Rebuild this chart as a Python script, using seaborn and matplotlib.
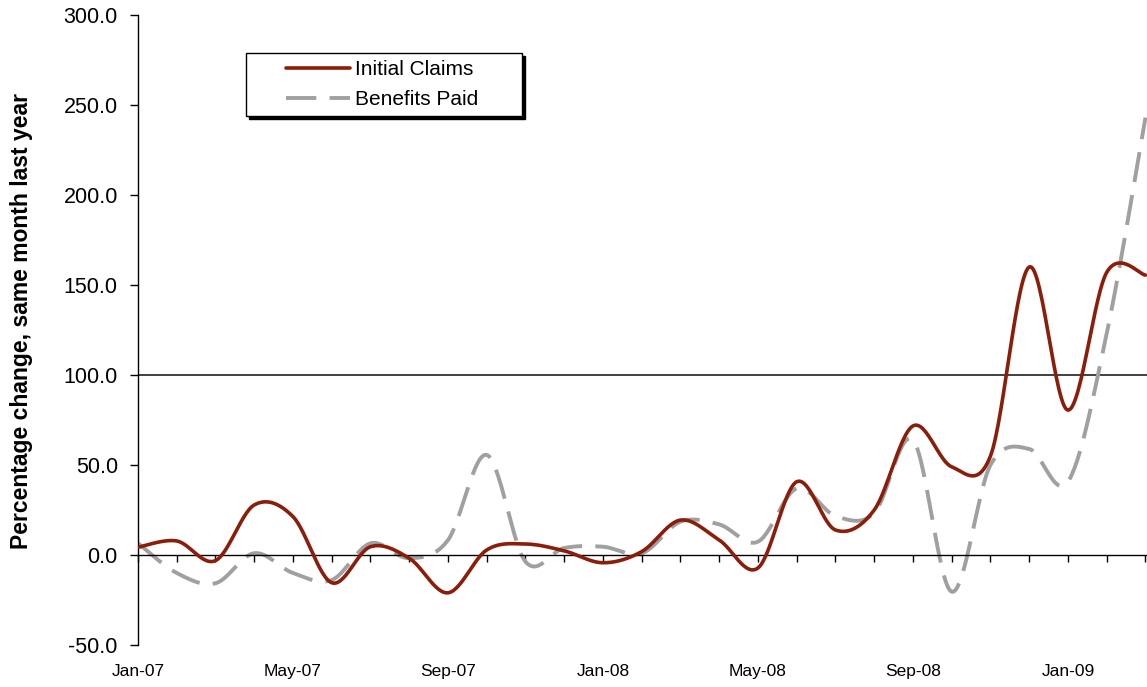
import numpy as np
import pandas as pd
import matplotlib
matplotlib.use("Agg")
import matplotlib.pyplot as plt
from matplotlib.lines import Line2D
from matplotlib.legend_handler import HandlerLine2D
import seaborn as sns

# Monthly year-over-year percentage changes
months = ["Jan-07", "Feb-07", "Mar-07", "Apr-07", "May-07", "Jun-07", "Jul-07",
          "Aug-07", "Sep-07", "Oct-07", "Nov-07", "Dec-07", "Jan-08", "Feb-08",
          "Mar-08", "Apr-08", "May-08", "Jun-08", "Jul-08", "Aug-08", "Sep-08",
          "Oct-08", "Nov-08", "Dec-08", "Jan-09", "Feb-09", "Mar-09"]

initial_claims = [4.3, 7.8, -3.1, 27.8, 21.3, -15.4, 4.6, -1.8, -21.0, 2.8, 6.1, 2.3,
                  -4.3, 1.9, 19.4, 8.3, -7.2, 40.7, 13.9, 25.0, 71.7, 49.0, 55.0, 160.0,
                  80.5, 157.0, 155.5]

benefits_paid = [6.5, -10.0, -15.7, 1.0, -10.0, -13.9, 6.5, -1.8, 8.3, 55.6, -3.7, 3.9,
                 4.6, 0.9, 18.5, 17.0, 7.4, 37.0, 21.7, 23.3, 63.9, -20.4, 50.0, 58.9,
                 40.7, 123.0, 243.0]

y_ticks = [-50, 0, 50, 100, 150, 200, 250, 300]
x_label_months = ["Jan-07", "May-07", "Sep-07", "Jan-08", "May-08", "Sep-08", "Jan-09"]

RED = "#8B1E0A"
GRAY = "#A0A0A0"


def smoothed(xs, ys, steps=30):
    """Spreadsheet-style smoothed line: cubic Bezier segments through every value."""
    xs = np.asarray(xs, float)
    ys = np.asarray(ys, float)
    px = np.concatenate([[xs[0]], xs, [xs[-1]]])
    py = np.concatenate([[ys[0]], ys, [ys[-1]]])
    t = np.linspace(0, 1, steps, endpoint=False)
    out_x, out_y = [], []
    for i in range(len(xs) - 1):
        x0, x1, x2, x3 = px[i:i + 4]
        y0, y1, y2, y3 = py[i:i + 4]
        cx1, cy1 = x1 + (x2 - x0) / 6, y1 + (y2 - y0) / 6
        cx2, cy2 = x2 - (x3 - x1) / 6, y2 - (y3 - y1) / 6
        b0, b1, b2, b3 = (1 - t) ** 3, 3 * (1 - t) ** 2 * t, 3 * (1 - t) * t ** 2, t ** 3
        out_x.append(b0 * x1 + b1 * cx1 + b2 * cx2 + b3 * x2)
        out_y.append(b0 * y1 + b1 * cy1 + b2 * cy2 + b3 * y2)
    out_x.append([xs[-1]])
    out_y.append([ys[-1]])
    return np.concatenate(out_x), np.concatenate(out_y)


sns.set_theme(style="ticks")
plt.rcParams["font.family"] = ["Liberation Sans", "DejaVu Sans"]
plt.rcParams["text.color"] = "black"

pos = np.arange(len(months))
ic_x, ic_y = smoothed(pos, initial_claims)
bp_x, bp_y = smoothed(pos, benefits_paid)
df_ic = pd.DataFrame({"month": ic_x, "change": ic_y})
df_bp = pd.DataFrame({"month": bp_x, "change": bp_y})

fig = plt.figure(figsize=(11.47, 6.87), dpi=100)
ax = fig.add_axes([138 / 1147, 42 / 687, 1009 / 1147, 630 / 687])

ax.axhline(100, color="#404040", lw=1.4, zorder=1)

sns.lineplot(data=df_ic, x="month", y="change", sort=False, estimator=None,
             color=RED, lw=2.6, ax=ax, zorder=3)
sns.lineplot(data=df_bp, x="month", y="change", sort=False, estimator=None,
             color=GRAY, lw=2.8, ax=ax, zorder=2)
ax.lines[-1].set_dashes([7.8, 3.4])
ax.lines[-1].set_dash_capstyle("butt")

ax.set_xlim(0, 26.04)
ax.set_ylim(-50, 300)

# spines: y axis at left, category axis crossing at zero
for side in ("top", "right"):
    ax.spines[side].set_visible(False)
ax.spines["left"].set_color("black")
ax.spines["left"].set_linewidth(1.0)
ax.spines["bottom"].set_position(("data", 0))
ax.spines["bottom"].set_color("black")
ax.spines["bottom"].set_linewidth(1.0)

ax.set_yticks(y_ticks)
ax.set_yticklabels([f"{v:.1f}" for v in y_ticks])
ax.tick_params(axis="y", direction="out", length=5.5, width=1.0, pad=9,
               labelsize=15.5, colors="black", left=True)

ax.set_xticks(pos)
ax.tick_params(axis="x", direction="out", length=5, width=1.0, bottom=True,
               labelbottom=False, colors="black")
ax.set_xlabel("")

# month labels sit low, below the plotting area
sec = ax.secondary_xaxis(0)
sec.set_xticks([months.index(m) for m in x_label_months], labels=x_label_months)
sec.tick_params(length=0, pad=13.5, labelsize=12.5, colors="black")
sec.spines["bottom"].set_visible(False)

ax.set_ylabel("Percentage change, same month last year", fontsize=16.5,
              fontweight="bold", color="black")
ax.yaxis.set_label_coords(-0.104, 0.514)

handles = [Line2D([], [], color=RED, lw=2.6),
           Line2D([], [], color=GRAY, lw=2.8, dashes=[7.8, 3.4], dash_capstyle="butt")]
leg = ax.legend(handles, ["Initial Claims", "Benefits Paid"],
                loc="upper left", bbox_to_anchor=(0.1070, 0.80, 0.2735, 0.1397),
                mode="expand", borderaxespad=0, borderpad=0.36, fontsize=15,
                handlelength=4.65, handletextpad=0.2, labelspacing=0.5,
                fancybox=False, framealpha=1, edgecolor="black",
                shadow={"facecolor": "black", "edgecolor": "black", "alpha": 1},
                handler_map={Line2D: HandlerLine2D(xpad=1.55)})
leg.get_frame().set_linewidth(1.0)
for txt in leg.get_texts():
    txt.set_color("black")

fig.savefig("out.png", dpi=100)
